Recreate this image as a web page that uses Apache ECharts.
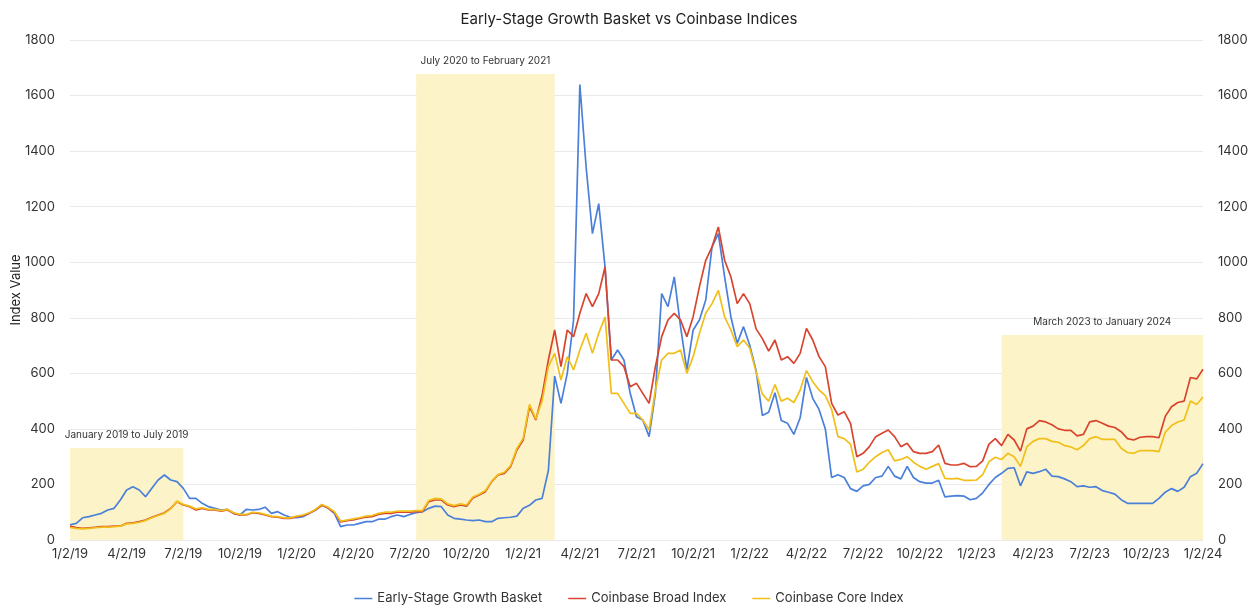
<!DOCTYPE html>
<html>
<head>
<meta charset="utf-8">
<script src="https://cdn.jsdelivr.net/npm/echarts@6/dist/echarts.min.js"></script>
<style>
  html, body { margin: 0; padding: 0; background: #fff; }
  #chart { width: 1258px; height: 610px; }
</style>
</head>
<body>
<div id="chart"></div>
<script>
// dates: 2nd, 12th and 22nd of every month, 1/2/19 .. 1/2/24
const years = [19, 20, 21, 22, 23]
const daysOfMonth = [2, 12, 22]
const dates = []
years.forEach(function (yy) {
  for (let m = 1; m <= 12; m++) {
    daysOfMonth.forEach(function (d) { dates.push(m + '/' + d + '/' + yy) })
  }
})
dates.push('1/2/24')

// Early-Stage Growth Basket
const growthBasket = [
  55, 60, 80, 84, 90, 96, 108, 114, 144, 180, 192, 180, 156, 186, 216, 234, 216, 210, 186, 150, 150, 132, 120, 114, 108, 110, 96, 90, 110, 108, 110, 118, 96, 102, 90, 82,
  80, 84, 96, 108, 126, 115, 96, 48, 54, 54, 60, 66, 66, 75, 75, 84, 90, 84, 92, 98, 102, 114, 122, 120, 90, 78, 75, 72, 70, 72, 66, 66, 78, 80, 82, 86,
  114, 125, 144, 150, 250, 590, 492, 600, 792, 1640, 1342, 1103, 1211, 983, 648, 684, 648, 528, 444, 432, 372, 528, 887, 840, 947, 768, 612, 756, 792, 864, 1055, 1103, 947, 803, 708, 768,
  700, 610, 448, 460, 530, 430, 420, 380, 440, 585, 510, 470, 400, 225, 235, 225, 185, 175, 195, 200, 225, 230, 265, 230, 220, 265, 225, 210, 205, 205, 215, 155, 158, 160, 158, 145,
  150, 170, 200, 225, 240, 258, 260, 195, 245, 240, 246, 255, 230, 228, 220, 210, 192, 195, 190, 192, 178, 172, 165, 145, 132, 132, 132, 132, 132, 150, 172, 185, 175, 190, 228, 240,
  275
]

// Coinbase Broad Index
const broadIndex = [
  50, 45, 42, 44, 46, 48, 48, 50, 50, 60, 62, 66, 72, 82, 90, 98, 114, 138, 126, 120, 108, 114, 108, 108, 104, 108, 96, 90, 90, 98, 96, 90, 84, 82, 78, 78,
  84, 88, 96, 108, 125, 115, 100, 65, 70, 72, 78, 82, 84, 92, 96, 96, 100, 100, 100, 102, 102, 138, 144, 144, 126, 120, 126, 122, 151, 162, 174, 210, 234, 240, 264, 324,
  360, 480, 432, 520, 648, 756, 624, 756, 732, 816, 887, 840, 887, 983, 648, 648, 624, 552, 564, 528, 492, 624, 732, 792, 816, 792, 732, 804, 912, 1007, 1055, 1127, 1007, 947, 851, 887,
  850, 760, 725, 680, 720, 648, 660, 636, 672, 762, 720, 660, 624, 492, 450, 462, 420, 300, 312, 336, 372, 384, 396, 372, 336, 348, 318, 312, 312, 318, 342, 276, 270, 270, 276, 264,
  265, 285, 345, 365, 340, 380, 360, 320, 400, 410, 430, 425, 415, 400, 395, 395, 375, 380, 425, 430, 420, 410, 405, 390, 365, 360, 370, 372, 372, 368, 445, 480, 495, 500, 585, 580,
  615
]

// Coinbase Core Index
const coreIndex = [
  45, 42, 40, 42, 44, 46, 46, 48, 50, 58, 60, 64, 70, 80, 88, 96, 112, 140, 128, 122, 112, 116, 110, 110, 106, 110, 98, 92, 92, 100, 98, 92, 86, 84, 80, 80,
  86, 90, 98, 110, 128, 118, 102, 68, 72, 76, 80, 86, 88, 96, 100, 100, 104, 104, 104, 106, 106, 142, 150, 148, 130, 124, 130, 126, 155, 165, 178, 212, 236, 244, 268, 330,
  366, 488, 436, 500, 624, 672, 576, 660, 612, 684, 744, 672, 744, 803, 528, 528, 492, 456, 456, 432, 396, 540, 648, 672, 672, 684, 600, 660, 744, 816, 851, 899, 803, 756, 696, 720,
  690, 605, 525, 500, 560, 500, 510, 495, 540, 610, 570, 540, 520, 470, 372, 365, 345, 245, 255, 280, 300, 315, 325, 285, 290, 300, 280, 265, 255, 265, 275, 222, 220, 222, 215, 215,
  216, 235, 282, 298, 290, 312, 300, 265, 335, 355, 365, 365, 355, 352, 340, 335, 325, 340, 365, 372, 362, 362, 362, 330, 315, 312, 322, 322, 322, 318, 388, 412, 425, 432, 500, 488,
  515
]

// highlighted periods: [label, start, end, top value]
const periods = [
  ['January 2019 to July 2019', '1/2/19', '7/2/19', 331],
  ['July 2020 to February 2021', '7/12/20', '2/22/21', 1678],
  ['March 2023 to January 2024', '2/12/23', '1/2/24', 738],
]

const seriesNames = ['Early-Stage Growth Basket', 'Coinbase Broad Index', 'Coinbase Core Index']
const seriesColors = ['#4a80d9', '#d9442f', '#f0bf1a']
const seriesData = [growthBasket, broadIndex, coreIndex]

const font = 'Inter, "Noto Sans", sans-serif'
const chart = echarts.init(document.getElementById('chart'))

const lineSeries = seriesData.map(function (data, i) {
  return {
    name: seriesNames[i],
    type: 'line',
    data: data,
    symbol: 'none',
    z: 3,
    lineStyle: { width: 1.7, color: seriesColors[i] },
    itemStyle: { color: seriesColors[i] },
  }
})

// plain tick numbers, no thousands separator
const plainLabel = function (v) { return String(v) }

const option = {
  backgroundColor: '#fff',
  textStyle: { fontFamily: font },
  title: {
    text: 'Early-Stage Growth Basket vs Coinbase Indices',
    left: 'center',
    top: 7,
    textStyle: { fontSize: 15, fontWeight: 'normal', color: '#222', fontFamily: font },
  },
  legend: {
    data: seriesNames,
    bottom: 0,
    left: 'center',
    icon: 'rect',
    itemWidth: 18,
    itemHeight: 1.5,
    itemGap: 26,
    textStyle: { fontSize: 13, color: '#333', fontFamily: font },
  },
  grid: { left: 70, right: 55, top: 40, bottom: 70, outerBoundsMode: 'none', containLabel: false },
  xAxis: {
    type: 'category',
    data: dates,
    boundaryGap: false,
    axisLine: { show: false },
    axisTick: { show: false },
    axisLabel: {
      interval: function (index) { return index % 9 === 0 },
      hideOverlap: false,
      fontSize: 13,
      color: '#333',
      margin: 8,
    },
  },
  yAxis: [
    {
      type: 'value',
      min: 0,
      max: 1800,
      interval: 200,
      name: 'Index Value',
      nameLocation: 'middle',
      nameGap: 47,
      nameMoveOverlap: false,
      nameTextStyle: { fontSize: 13, color: '#222' },
      axisLabel: { fontSize: 13, color: '#333', margin: 15, formatter: plainLabel },
      axisLine: { show: false },
      axisTick: { show: false },
      splitLine: { lineStyle: { color: '#e9e9e9' } },
    },
    {
      type: 'value',
      min: 0,
      max: 1800,
      interval: 200,
      position: 'right',
      axisLabel: { fontSize: 13, color: '#333', margin: 15, formatter: plainLabel },
      axisLine: { show: false },
      axisTick: { show: false },
      splitLine: { show: false },
    },
  ],
  series: [
    {
      name: 'periods',
      type: 'line',
      data: [],
      z: 1,
      silent: true,
      markArea: {
        silent: true,
        itemStyle: { color: '#fdf3c8' },
        label: { show: true, position: 'top', distance: 8, fontSize: 10, color: '#333' },
        data: periods.map(function (p) {
          return [
            { name: p[0], xAxis: p[1], yAxis: 0 },
            { xAxis: p[2], yAxis: p[3] },
          ]
        }),
      },
    },
  ].concat(lineSeries),
}

chart.setOption(option)
</script>
</body>
</html>
